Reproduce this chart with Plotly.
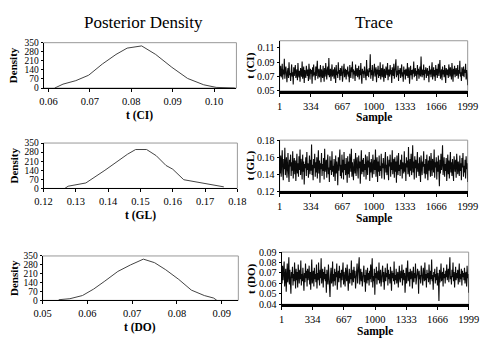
import numpy as np
import plotly.graph_objects as go

# ---------------- data ----------------
ci_dens_x = [0.0615, 0.0635, 0.0666, 0.0697, 0.0730, 0.0763, 0.0790, 0.0820, 0.0825, 0.0859, 0.0898, 0.0936, 0.0975, 0.1005, 0.1050]
ci_dens_y = [0, 30, 57, 99, 185, 259, 308, 320, 325, 259, 160, 74, 25, 5, 0]

gl_dens_x = [0.1266, 0.1276, 0.1331, 0.1390, 0.1460, 0.1485, 0.1519, 0.1549, 0.1579, 0.1600, 0.1634, 0.1688, 0.1758]
gl_dens_y = [0, 17, 42, 140, 264, 300, 300, 252, 177, 148, 67, 42, 12]

do_dens_x = [0.0536, 0.0561, 0.0589, 0.0614, 0.0639, 0.0668, 0.0696, 0.0725, 0.0750, 0.0775, 0.0804, 0.0832, 0.0861, 0.0882, 0.0889]
do_dens_y = [5, 13, 38, 89, 152, 228, 279, 325, 297, 241, 165, 81, 38, 18, 0]

ci_trace = [
0.078,0.071,0.085,0.069,0.074,0.088,0.066,0.080,0.073,0.095,
0.067,0.079,0.084,0.070,0.062,0.077,0.082,0.068,0.090,0.072,
0.075,0.064,0.081,0.087,0.070,0.076,0.059,0.083,0.071,0.079,
0.086,0.068,0.073,0.080,0.065,0.089,0.074,0.069,0.078,0.063,
0.082,0.076,0.070,0.091,0.067,0.075,0.084,0.061,0.079,0.072,
0.068,0.085,0.077,0.071,0.080,0.064,0.088,0.073,0.066,0.081,
0.074,0.079,0.060,0.083,0.070,0.087,0.072,0.076,0.065,0.084,
0.071,0.078,0.092,0.067,0.075,0.081,0.069,0.073,0.086,0.062,
0.080,0.074,0.068,0.085,0.077,0.063,0.082,0.070,0.089,0.075,
0.066,0.079,0.084,0.072,0.096,0.069,0.076,0.081,0.064,0.078,
0.087,0.070,0.073,0.080,0.067,0.083,0.075,0.061,0.086,0.072,
0.077,0.068,0.090,0.074,0.079,0.065,0.082,0.071,0.076,0.085,
0.063,0.078,0.072,0.088,0.069,0.075,0.081,0.066,0.079,0.073,
0.084,0.070,0.077,0.062,0.086,0.074,0.068,0.083,0.076,0.091,
0.067,0.080,0.073,0.078,0.064,0.087,0.071,0.075,0.082,0.069,
0.076,0.085,0.066,0.079,0.072,0.089,0.070,0.060,0.081,0.074,
0.078,0.068,0.084,0.073,0.077,0.065,0.093,0.071,0.080,0.075,
0.069,0.082,0.076,0.101,0.067,0.079,0.072,0.086,0.064,0.078,
0.074,0.088,0.070,0.077,0.083,0.062,0.080,0.073,0.085,0.068,
0.079,0.071,0.090,0.066,0.076,0.082,0.069,0.087,0.074,0.063,
0.081,0.075,0.068,0.084,0.078,0.072,0.089,0.065,0.077,0.080,
0.070,0.086,0.073,0.079,0.061,0.083,0.076,0.071,0.088,0.067,
0.075,0.080,0.094,0.069,0.078,0.072,0.085,0.064,0.079,0.074,
0.082,0.068,0.077,0.087,0.070,0.076,0.063,0.084,0.073,0.079,
0.066,0.081,0.075,0.071,0.089,0.068,0.078,0.083,0.060,0.077,
0.085,0.072,0.079,0.066,0.080,0.074,0.091,0.069,0.076,0.082,
0.071,0.078,0.064,0.086,0.073,0.081,0.067,0.077,0.084,0.070,
0.098,0.075,0.069,0.080,0.072,0.087,0.065,0.079,0.074,0.083,
0.068,0.076,0.082,0.071,0.078,0.062,0.085,0.073,0.080,0.069,
0.077,0.090,0.066,0.075,0.083,0.070,0.079,0.064,0.086,0.072,
0.081,0.068,0.076,0.088,0.071,0.078,0.093,0.067,0.074,0.080,
0.065,0.084,0.073,0.079,0.069,0.086,0.075,0.061,0.082,0.077,
0.072,0.080,0.068,0.087,0.076,0.070,0.083,0.074,0.066,0.089,
0.078,0.063,0.081,0.073,0.085,0.069,0.077,0.082,0.071,0.075,
0.086,0.067,0.079,0.074,0.092,0.070,0.076,0.064,0.083,0.078,
0.071,0.084,0.069,0.080,0.075,0.088,0.066,0.079,0.073,0.058]

gl_trace = [
0.150,0.141,0.162,0.137,0.155,0.168,0.143,0.133,0.158,0.146,
0.171,0.139,0.152,0.160,0.136,0.147,0.165,0.142,0.131,0.157,
0.149,0.163,0.138,0.154,0.144,0.167,0.135,0.151,0.159,0.140,
0.156,0.132,0.148,0.164,0.141,0.153,0.137,0.161,0.145,0.169,
0.139,0.158,0.150,0.134,0.163,0.143,0.155,0.128,0.152,0.147,
0.160,0.138,0.166,0.145,0.153,0.136,0.149,0.162,0.140,0.157,
0.144,0.175,0.139,0.151,0.133,0.158,0.147,0.164,0.137,0.154,
0.142,0.160,0.135,0.150,0.168,0.141,0.156,0.130,0.153,0.146,
0.165,0.138,0.152,0.144,0.159,0.134,0.170,0.143,0.149,0.157,
0.136,0.154,0.163,0.140,0.148,0.131,0.161,0.145,0.156,0.139,
0.167,0.143,0.150,0.137,0.158,0.146,0.132,0.162,0.141,0.155,
0.148,0.127,0.160,0.144,0.153,0.169,0.138,0.151,0.135,0.163,
0.142,0.157,0.134,0.166,0.145,0.152,0.139,0.159,0.147,0.130,
0.161,0.140,0.155,0.136,0.164,0.149,0.143,0.170,0.137,0.154,
0.146,0.133,0.158,0.150,0.141,0.165,0.138,0.153,0.160,0.144,
0.135,0.162,0.147,0.155,0.129,0.151,0.168,0.140,0.157,0.143,
0.159,0.137,0.152,0.145,0.163,0.134,0.149,0.161,0.139,0.156,
0.148,0.166,0.132,0.154,0.142,0.158,0.146,0.136,0.163,0.150,
0.140,0.157,0.145,0.169,0.137,0.152,0.160,0.131,0.155,0.143,
0.162,0.138,0.150,0.144,0.164,0.135,0.153,0.147,0.159,0.141,
0.134,0.156,0.166,0.142,0.151,0.139,0.161,0.148,0.133,0.157,
0.149,0.163,0.137,0.154,0.145,0.168,0.140,0.152,0.158,0.136,
0.160,0.143,0.155,0.130,0.162,0.147,0.139,0.165,0.144,0.151,
0.138,0.157,0.146,0.163,0.135,0.154,0.149,0.141,0.167,0.143,
0.153,0.132,0.160,0.148,0.156,0.140,0.172,0.145,0.137,0.158,
0.144,0.164,0.139,0.151,0.174,0.142,0.155,0.134,0.161,0.147,
0.157,0.136,0.150,0.166,0.143,0.153,0.138,0.160,0.146,0.131,
0.162,0.145,0.139,0.155,0.149,0.167,0.141,0.152,0.135,0.158,
0.140,0.163,0.147,0.133,0.156,0.144,0.161,0.150,0.137,0.165,
0.151,0.138,0.158,0.146,0.142,0.169,0.136,0.154,0.148,0.160,
0.134,0.155,0.143,0.162,0.150,0.126,0.157,0.141,0.164,0.145,
0.153,0.174,0.139,0.148,0.160,0.137,0.152,0.144,0.159,0.132,
0.147,0.163,0.140,0.156,0.135,0.150,0.166,0.142,0.154,0.138,
0.158,0.145,0.132,0.161,0.149,0.143,0.157,0.136,0.164,0.151,
0.140,0.155,0.147,0.138,0.162,0.144,0.153,0.133,0.159,0.148,
0.165,0.137,0.150,0.142,0.157,0.135,0.161,0.146,0.153,0.131]

do_trace = [
0.068,0.060,0.077,0.063,0.072,0.081,0.057,0.066,0.074,0.052,
0.070,0.079,0.061,0.067,0.085,0.059,0.073,0.064,0.050,0.071,
0.065,0.076,0.058,0.069,0.062,0.080,0.067,0.055,0.074,0.063,
0.071,0.056,0.078,0.066,0.060,0.073,0.064,0.082,0.058,0.069,
0.062,0.075,0.067,0.053,0.070,0.061,0.079,0.065,0.072,0.057,
0.074,0.063,0.068,0.077,0.059,0.071,0.054,0.066,0.083,0.060,
0.067,0.072,0.057,0.075,0.064,0.069,0.061,0.078,0.055,0.070,
0.063,0.080,0.066,0.058,0.073,0.065,0.084,0.060,0.068,0.074,
0.056,0.071,0.064,0.076,0.062,0.069,0.051,0.073,0.066,0.059,
0.078,0.065,0.070,0.047,0.068,0.075,0.060,0.064,0.081,0.057,
0.069,0.062,0.074,0.058,0.071,0.066,0.079,0.054,0.067,0.072,
0.061,0.077,0.065,0.070,0.056,0.073,0.063,0.068,0.080,0.059,
0.071,0.064,0.057,0.075,0.067,0.062,0.078,0.069,0.053,0.066,
0.074,0.060,0.070,0.064,0.082,0.058,0.068,0.073,0.061,0.076,
0.065,0.072,0.055,0.067,0.063,0.079,0.060,0.070,0.066,0.085,
0.059,0.069,0.074,0.062,0.071,0.057,0.067,0.064,0.077,0.061,
0.068,0.052,0.073,0.066,0.060,0.075,0.063,0.070,0.058,0.072,
0.064,0.078,0.061,0.069,0.084,0.056,0.067,0.062,0.074,0.049,
0.070,0.065,0.076,0.059,0.068,0.072,0.063,0.080,0.060,0.066,
0.073,0.057,0.069,0.064,0.077,0.061,0.071,0.054,0.067,0.075,
0.062,0.070,0.066,0.079,0.058,0.073,0.064,0.069,0.060,0.076,
0.067,0.053,0.072,0.065,0.070,0.062,0.081,0.059,0.068,0.063,
0.074,0.060,0.066,0.071,0.056,0.069,0.077,0.064,0.061,0.072,
0.065,0.078,0.058,0.067,0.073,0.063,0.070,0.051,0.068,0.075,
0.060,0.069,0.082,0.062,0.066,0.071,0.057,0.074,0.064,0.068,
0.072,0.055,0.067,0.076,0.061,0.070,0.065,0.079,0.059,0.066,
0.063,0.074,0.069,0.050,0.072,0.064,0.068,0.060,0.077,0.067,
0.071,0.058,0.075,0.066,0.062,0.080,0.063,0.069,0.056,0.073,
0.065,0.070,0.061,0.078,0.067,0.059,0.072,0.064,0.083,0.062,
0.068,0.054,0.071,0.066,0.074,0.060,0.069,0.063,0.076,0.058,
0.070,0.064,0.043,0.073,0.061,0.067,0.079,0.062,0.068,0.071,
0.057,0.075,0.065,0.069,0.060,0.072,0.066,0.078,0.063,0.068,
0.074,0.061,0.070,0.085,0.064,0.067,0.059,0.073,0.066,0.080,
0.062,0.071,0.056,0.068,0.076,0.063,0.070,0.065,0.073,0.059,
0.067,0.079,0.061,0.069,0.064,0.074,0.058,0.072,0.066,0.070,
0.063,0.075,0.060,0.068,0.071,0.057,0.077,0.065,0.069,0.051]

sample_ticks = [1, 334, 667, 1000, 1333, 1666, 1999]
density_ticks = [0, 70, 140, 210, 280, 350]
ci_xticks = [0.06, 0.07, 0.08, 0.09, 0.10]
gl_xticks = [0.12, 0.13, 0.14, 0.15, 0.16, 0.17, 0.18]
do_xticks = [0.05, 0.06, 0.07, 0.08, 0.09]
ci_yticks = [0.05, 0.07, 0.09, 0.11]
gl_yticks = [0.12, 0.14, 0.16, 0.18]
do_yticks = [0.04, 0.05, 0.06, 0.07, 0.08, 0.09]

W, H = 495, 344
FONT = "Liberation Serif, Times New Roman, serif"

def px(x0, x1):
    return [x0 / W, x1 / W]

def py(top, bottom):
    return [1 - bottom / H, 1 - top / H]

fig = go.Figure()

panels = [
    ("dens", ci_dens_x, ci_dens_y, px(36, 237), py(38, 85), [0.0588, 0.1054], [0, 350], ci_xticks, density_ticks, "t (CI)", "Density"),
    ("trace", None, ci_trace, px(282, 478), py(36, 88), [1, 1999], [0.05, 0.12], sample_ticks, ci_yticks, "Sample", "t (CI)"),
    ("dens", gl_dens_x, gl_dens_y, px(36, 238), py(142, 189), [0.12, 0.18], [0, 350], gl_xticks, density_ticks, "t (GL)", "Density"),
    ("trace", None, gl_trace, px(282, 478), py(139, 192), [1, 1999], [0.12, 0.18], sample_ticks, gl_yticks, "Sample", "t (GL)"),
    ("dens", do_dens_x, do_dens_y, px(35, 239), py(259, 305), [0.05, 0.0937], [0, 350], do_xticks, density_ticks, "t (DO)", "Density"),
    ("trace", None, do_trace, px(284, 479), py(255, 309), [1, 1999], [0.04, 0.09], sample_ticks, do_yticks, "Sample", "t (DO)"),
]

annotations = []
shapes = []
for i, (kind, xs, ys, xd, yd, xr, yr, xt, yt, xtitle, ytitle) in enumerate(panels):
    n = i + 1
    xa = "x" if n == 1 else f"x{n}"
    ya = "y" if n == 1 else f"y{n}"
    if kind == "trace":
        xs = np.linspace(1, 1999, len(ys))
        fig.add_trace(go.Scatter(x=xs, y=ys, mode="lines", line=dict(color="#0a0a0a", width=1.1),
                                 xaxis=xa, yaxis=ya, showlegend=False, hoverinfo="skip"))
    else:
        fig.add_trace(go.Scatter(x=xs, y=ys, mode="lines", line=dict(color="#444444", width=1),
                                 xaxis=xa, yaxis=ya, showlegend=False, hoverinfo="skip"))
    xkey = "xaxis" if n == 1 else f"xaxis{n}"
    ykey = "yaxis" if n == 1 else f"yaxis{n}"
    if kind == "trace":
        xfmt = dict(tickvals=xt, ticktext=[str(v) for v in xt])
        yfmt = dict(tickvals=yt, ticktext=[f"{v:.2f}" for v in yt])
    else:
        xfmt = dict(tickvals=xt, ticktext=[f"{v:.2f}" for v in xt])
        yfmt = dict(tickvals=yt, ticktext=[str(v) for v in yt])
    fig.update_layout({
        xkey: dict(domain=xd, range=xr, anchor=ya, showgrid=False, zeroline=False,
                   showline=True, linecolor="black", linewidth=3 if kind == "trace" else 1,
                   ticks="outside", ticklen=3, tickcolor="black",
                   tickfont=dict(family=FONT, size=10.5, color="black"), **xfmt),
        ykey: dict(domain=yd, range=yr, anchor=xa, showgrid=False, zeroline=False,
                   showline=True, linecolor="black", linewidth=1,
                   ticks="outside", ticklen=2, tickcolor="black",
                   tickfont=dict(family=FONT, size=9.5 if kind == "dens" else 10, color="black"), **yfmt),
    })
    shapes.append(dict(type="rect", xref=f"{xa} domain", yref=f"{ya} domain", x0=0, x1=1, y0=0, y1=1,
                       line=dict(color="#999999", width=1), layer="below"))
    xmid = (xd[0] + xd[1]) / 2
    annotations.append(dict(text=f"<b>{xtitle}</b>", x=xmid, y=yd[0] - 28 / H, xref="paper", yref="paper",
                            showarrow=False, xanchor="center", yanchor="middle",
                            font=dict(family=FONT, size=11.5, color="black")))
    ymid = (yd[0] + yd[1]) / 2
    ytx = 5 / W if kind == "dens" else 252 / W
    annotations.append(dict(text=f"<b>{ytitle}</b>", x=ytx, y=ymid, xref="paper", yref="paper",
                            showarrow=False, xanchor="center", yanchor="middle", textangle=-90,
                            font=dict(family=FONT, size=11, color="black")))

annotations.append(dict(text="Posterior Density", x=140 / W, y=1 - 17 / H, xref="paper", yref="paper",
                        showarrow=False, xanchor="center", yanchor="middle",
                        font=dict(family=FONT, size=17, color="black")))
annotations.append(dict(text="Trace", x=380 / W, y=1 - 17 / H, xref="paper", yref="paper",
                        showarrow=False, xanchor="center", yanchor="middle",
                        font=dict(family=FONT, size=17, color="black")))

fig.update_layout(width=W, height=H, margin=dict(l=0, r=0, t=0, b=0),
                  paper_bgcolor="white", plot_bgcolor="white",
                  annotations=annotations, shapes=shapes)

fig.write_html("out.html", config={"displayModeBar": False},
               post_script="document.body.style.margin='0px';document.body.style.overflow='hidden';")
